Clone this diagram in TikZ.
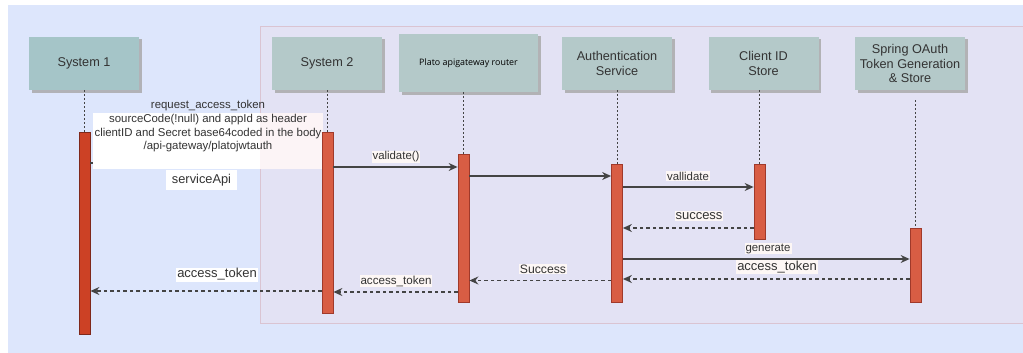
\documentclass[tikz,border=0pt]{standalone}
\usepackage{fontspec}
\setmainfont{Liberation Sans}
\newfontfamily\platofont{Open Sans}
\usetikzlibrary{arrows.meta,shadows}
\definecolor{bgblue}{RGB}{221,230,252}
\definecolor{lavpink}{RGB}{245,216,224}
\definecolor{lavborder}{RGB}{218,196,210}
\definecolor{boxA}{RGB}{165,197,200}
\definecolor{boxB}{RGB}{180,201,201}
\definecolor{barA}{RGB}{204,65,37}
\definecolor{barAd}{RGB}{127,40,26}
\definecolor{barB}{RGB}{216,93,68}
\definecolor{barBd}{RGB}{160,57,42}
\definecolor{txt}{RGB}{51,51,51}
\definecolor{lbl}{RGB}{253,247,245}
\definecolor{linec}{RGB}{68,68,68}
\begin{document}
\begin{tikzpicture}[x=1pt,y=-1pt,
  actor/.style={draw=none,fill=boxB,minimum width=110pt,minimum height=53pt,inner sep=0pt,
    align=center,text=txt,font=\fontsize{12.7}{14.7}\selectfont,
    drop shadow={shadow xshift=2.5pt,shadow yshift=-2.5pt,fill=gray!70,opacity=.8}},
  bar/.style={draw=barBd,fill=barB,line width=0.8pt,minimum width=11pt,inner sep=0pt,anchor=north},
  life/.style={draw=linec,line width=1pt,dash pattern=on 2pt off 2pt},
  msg/.style={draw=linec,line width=1.2pt,-{Stealth[length=9pt,width=8pt,inset=3pt]}},
  ret/.style={msg,dash pattern=on 3.5pt off 3pt},
  lab/.style={fill=lbl,inner sep=1pt,text=txt},
  small/.style={font=\fontsize{11.4}{13.7}\selectfont},
  big/.style={font=\fontsize{13}{15}\selectfont}]
\useasboundingbox (0,0) rectangle (1023,353);
% backgrounds
\fill[bgblue] (8,5) rectangle (1023,353);
% request label box (under the lavender frame)
\node[fill=white,minimum width=230pt,minimum height=56pt,inner sep=0pt] (reqbox) at (208,141) {};
\node[fill=lavpink,fill opacity=0.28,draw=lavborder,line width=0.8pt,minimum width=763pt,minimum height=297pt,inner sep=0pt,anchor=north west] (frame) at (260,26) {};
% actors
\node[actor,fill=boxA] (s1) at (84,63.5) {System 1};
\node[actor] (s2) at (327,63.5) {System 2};
\node[actor,minimum width=139pt,minimum height=58pt,font=\platofont\fontsize{8.9}{10}\selectfont,text=black] (pl) at (468.5,63) {Plato apigateway router};
\node[actor] (au) at (617,63.5) {Authentication\\Service};
\node[actor] (ci) at (763.5,63.5) {Client ID\\Store};
\node[actor] (sp) at (910,63.5) {Spring OAuth\\Token Generation\\\& Store};
% activation bars
\node[bar,draw=barAd,fill=barA,minimum height=202pt] (b1) at (84.5,132) {};
\node[bar,minimum height=181pt] (b2) at (327.5,132) {};
\node[bar,minimum height=148pt] (b3) at (463.5,154) {};
\node[bar,minimum height=138pt] (b4) at (617,164) {};
\node[bar,minimum height=75pt] (b5) at (759.5,164) {};
\node[bar,minimum height=74pt] (b6) at (915.5,228) {};
\coordinate (sptop) at (915.5,100);
% lifelines
\draw[life] (s1.south -| b1.north) -- (b1.north);
\draw[life] (s2.south -| b2.north) -- (b2.north);
\draw[life] (pl.south -| b3.north) -- (b3.north);
\draw[life] (au.south -| b4.north) -- (b4.north);
\draw[life] (ci.south -| b5.north) -- (b5.north);
\draw[life] (sptop) -- (b6.north);
% request message (covered by its label box)
\draw[msg] (b1.east |- 0,163) -- (b2.west |- 0,163);
\node[fill=white,minimum width=230pt,minimum height=56pt,inner sep=0pt] (reqbox2) at (208,141) {};
\node[fill=lavpink,fill opacity=0.28,minimum width=63pt,minimum height=56pt,inner sep=0pt,anchor=north west] (reqtint) at (260,113) {};
\node[small,align=center,text=txt] (req) at (208,126.5) {request\_access\_token\\sourceCode(!null) and appId as header\\clientID and Secret base64coded in the body\\/api-gateway/platojwtauth};
\node[fill=white,minimum width=71pt,minimum height=20pt,inner sep=0pt,text=txt,font=\fontsize{12.8}{14}\selectfont] (svc) at (201.5,180) {serviceApi};
% redraw bar 2 above the label box
\node[bar,minimum height=181pt] (b2b) at (327.5,132) {};
% messages
\draw[msg] (b2.east |- 0,167) -- (b3.west |- 0,167);
\node[lab,small] (l1) at (396,157) {validate()};
\draw[msg] (b3.east |- 0,176) -- (b4.west |- 0,176);
\draw[msg] (b4.east |- 0,187) -- (b5.west |- 0,187);
\node[lab,small] (l2) at (688,176) {vallidate};
\draw[ret] (b5.west |- 0,228) -- (b4.east |- 0,228);
\node[lab,big] (l3) at (699,216) {success};
\draw[msg] (b4.east |- 0,259) -- (b6.west |- 0,259);
\node[lab,small] (l4) at (768,248.5) {generate};
\draw[ret] (b6.west |- 0,279) -- (b4.east |- 0,279);
\node[lab,big] (l5) at (777,267) {access\_token};
\draw[ret] (b4.west |- 0,280.5) -- (b3.east |- 0,280.5);
\node[lab,font=\fontsize{12.2}{14}\selectfont] (l6) at (543,269) {Success};
\draw[ret] (b3.west |- 0,292) -- (b2.east |- 0,292);
\node[lab,font=\fontsize{11.6}{13}\selectfont] (l7) at (396,281) {access\_token};
\draw[ret] (b2.west |- 0,291) -- (b1.east |- 0,291);
\node[lab,big,fill=white] (l8) at (217,274.5) {access\_token};
\end{tikzpicture}
\end{document}
